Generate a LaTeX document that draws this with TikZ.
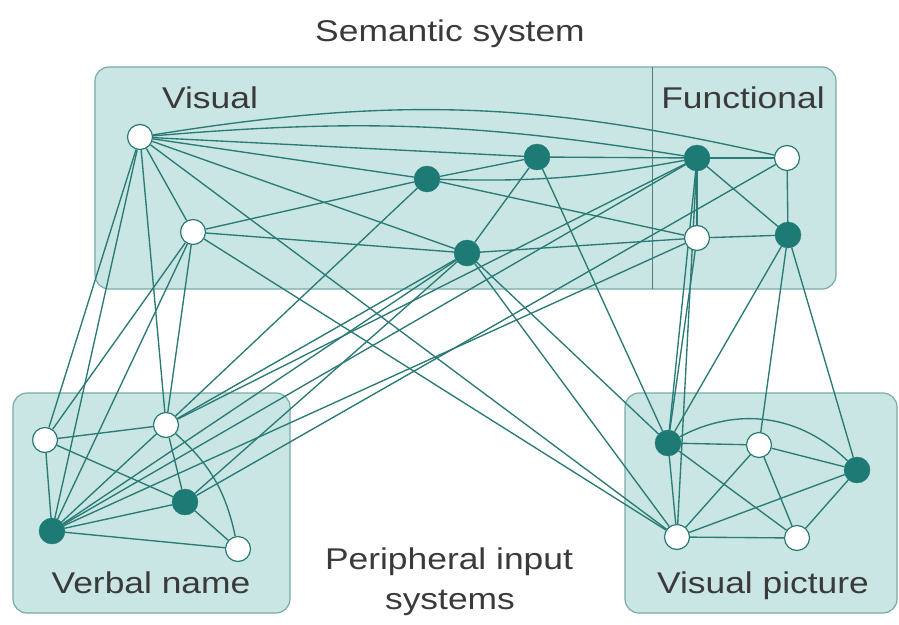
\documentclass[tikz,border=0pt]{standalone}
\usepackage{fontspec}
\setmainfont{Liberation Sans}[FakeStretch=1.18]
\definecolor{boxfill}{HTML}{C9E6E4}
\definecolor{boxline}{HTML}{78ABA8}
\definecolor{divline}{HTML}{4F7F7C}
\definecolor{linkc}{HTML}{2A7A75}
\definecolor{nodedark}{HTML}{1E7A74}
\definecolor{txt}{HTML}{3A3A3A}
\pgfdeclarelayer{bg}
\pgfdeclarelayer{edges}
\pgfsetlayers{bg,edges,main}
\begin{document}
\begin{tikzpicture}[x=1pt,y=-1pt,
  box/.style={draw=boxline, fill=boxfill, rounded corners=14pt, line width=1.2pt},
  link/.style={draw=linkc, line width=1.35pt},
  dk/.style={circle, fill=nodedark, draw=nodedark, inner sep=0pt, minimum size=26pt},
  wt/.style={circle, fill=white, draw=linkc, line width=1.2pt, inner sep=0pt, minimum size=25pt},
  lbl/.style={text=txt, font=\fontsize{30}{34}\selectfont, inner sep=0pt, anchor=base}]
\useasboundingbox (0,0) rectangle (899,624);

% semantic system nodes
\node[wt] (v1) at (140,137) {};
\node[wt] (v2) at (193,232) {};
\node[dk] (d1) at (427,179) {};
\node[dk] (d2) at (537,157) {};
\node[dk] (d3) at (467,253) {};
\node[dk] (f1) at (697,158) {};
\node[wt] (f2) at (787,158) {};
\node[wt] (f3) at (697,238) {};
\node[dk] (f4) at (788,235) {};
% verbal name nodes
\node[wt] (n1) at (45,440) {};
\node[wt] (n2) at (166,425) {};
\node[dk] (n3) at (185,502) {};
\node[dk] (n4) at (52,531) {};
\node[wt] (n5) at (238,549) {};
% visual picture nodes
\node[dk] (p1) at (668,443) {};
\node[wt] (p2) at (759,445) {};
\node[dk] (p3) at (857,470) {};
\node[wt] (p4) at (677,537) {};
\node[wt] (p5) at (797,538) {};

% labels
\node[lbl] (tsem) at (450,41) {Semantic system};
\node[lbl] (tvis) at (210,108) {Visual};
\node[lbl] (tfun) at (743,108) {Functional};
\node[lbl] (tverb) at (151,593) {Verbal name};
\node[lbl] (tpic) at (763,593) {Visual picture};
\node[lbl] (tper1) at (449,569) {Peripheral input};
\node[lbl] (tper2) at (450,609) {systems};

\begin{pgfonlayer}{bg}
  \draw[box] (95,67) rectangle (836,289);
  \draw[divline, line width=1pt] (652,67) -- (652,289);
  \draw[box] (13,393) rectangle (290,613);
  \draw[box] (625,393) rectangle (897,613);
\end{pgfonlayer}

\begin{pgfonlayer}{edges}
  % within the semantic system
  \foreach \a/\b in {v1/v2, v1/d1, v1/d2, v1/d3, d1/d2, d2/d3, d2/f1, f1/f2,
                     d1/f3, v2/d1, v2/d3, d3/f3, f3/f4, f1/f4, f2/f4, f1/f3}
    \draw[link] (\a) -- (\b);
  \draw[link] (v1) to[bend left=11] (f2);
  \draw[link] (v1) to[bend left=7] (f1);
  \draw[link] (d1) to[bend right=6] (f1);
  % within the verbal name system
  \foreach \a/\b in {n1/n2, n1/n4, n1/n3, n2/n4, n2/n3, n3/n4, n3/n5, n4/n5}
    \draw[link] (\a) -- (\b);
  \draw[link] (n2) to[bend left=18] (n5);
  % within the visual picture system
  \foreach \a/\b in {p1/p2, p1/p4, p1/p5, p2/p3, p2/p4, p2/p5, p3/p4, p3/p5, p4/p5}
    \draw[link] (\a) -- (\b);
  \draw[link] (p1) to[bend left=36] (p3);
  % verbal name to semantic system
  \foreach \a/\b in {n1/v1, n1/v2, n2/v1, n2/v2, n4/v1, n4/v2, n2/d1, n2/d3,
                     n3/d3, n4/d3, n4/f1, n4/f3, n3/f2, n2/f1}
    \draw[link] (\a) -- (\b);
  % visual picture to semantic system
  \foreach \a/\b in {v1/p4, v2/p4, d3/p4, d3/p1, d2/p1, f1/p1, f3/p1,
                     f4/p1, f4/p2, f4/p3, f1/p4}
    \draw[link] (\a) -- (\b);
\end{pgfonlayer}
\end{tikzpicture}
\end{document}
